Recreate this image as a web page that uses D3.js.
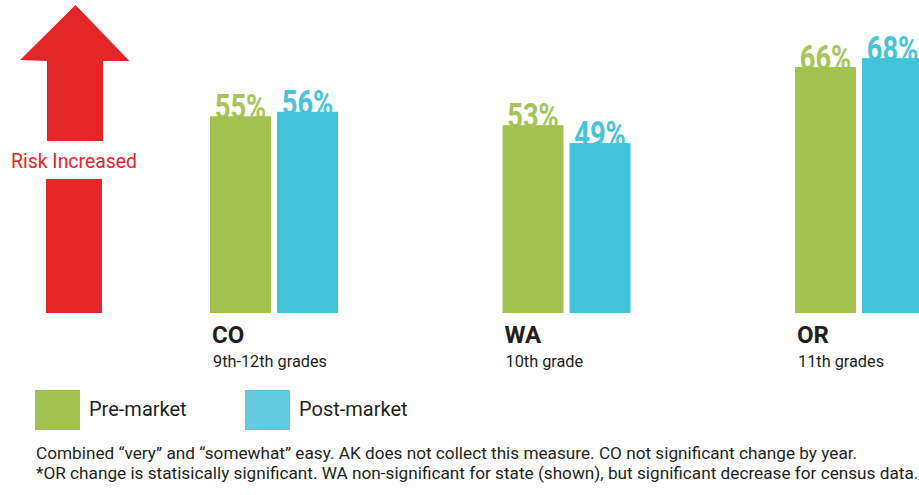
<!DOCTYPE html>
<html>
<head>
<meta charset="utf-8">
<script src="https://cdn.jsdelivr.net/npm/d3@7"></script>
<style>
  html, body { margin:0; padding:0; background:#fff; }
  svg { display:block; }
  text { font-family: Roboto, "Liberation Sans", sans-serif; }
</style>
</head>
<body>
<svg id="chart" width="919" height="495"></svg>
<script>
// ── data ──
const states   = ['CO', 'WA', 'OR'];
const grades   = ['9th-12th grades', '10th grade', '11th grades'];
const series   = ['Pre-market', 'Post-market'];
const preVals  = [55, 53, 66];
const postVals = [56, 49, 68];
const notes = [
  'Combined \u201cvery\u201d and \u201csomewhat\u201d easy. AK does not collect this measure. CO not significant change by year.',
  '*OR change is statisically significant. WA non-significant for state (shown), but significant decrease for census data.'
];

const COLORS = { 'Pre-market':'#a2c14f', 'Post-market':'#41c3da' };
const LABEL_COLORS = { 'Pre-market':'#a6c457', 'Post-market':'#45c4dc' };
const LEGEND_COLORS = { 'Pre-market':'#a2c14f', 'Post-market':'#62c9df' };
const DARK = '#231f20';
const RED = '#e52628';

const svg = d3.select('#chart');

// ── scales ── (infographic bars don't start at 0; fitted to the picture)
const base = 313;
const y = d3.scaleLinear().domain([11, 81]).range([base, 0]);
const xGroup = d3.scalePoint().domain(states).range([210, 795]);
const xSeries = d3.scaleBand().domain(series).range([0, 128]).paddingInner(0.09);

const rows = states.map((s, i) => ({
  state: s, grade: grades[i],
  vals: [{ key:'Pre-market', v:preVals[i] }, { key:'Post-market', v:postVals[i] }]
}));

// ── risk arrow (decoration) ──
const arrow = svg.append('g');
arrow.append('path')
  .attr('d', 'M75.5,5 L129.5,61 L103,61 L103,141 L47,141 L47,61 L20,60 Z')
  .attr('fill', RED);
arrow.append('rect').attr('x', 46).attr('y', 179).attr('width', 56).attr('height', 134).attr('fill', RED);
arrow.append('text')
  .attr('x', 74).attr('y', 168)
  .attr('text-anchor', 'middle')
  .attr('font-size', 20)
  .attr('fill', RED)
  .attr('transform', 'translate(74,0) scale(0.97,1) translate(-74,0)')
  .text('Risk Increased');

// ── groups ──
const groups = svg.selectAll('g.grp').data(rows).join('g')
  .attr('class', 'grp')
  .attr('transform', d => `translate(${xGroup(d.state)},0)`);

// value labels first, bars drawn over their feet
groups.selectAll('text.val').data(d => d.vals).join('text')
  .attr('class', 'val')
  .attr('x', d => xSeries(d.key) + xSeries.bandwidth() / 2)
  .attr('y', d => y(d.v) + 3)
  .attr('text-anchor', 'middle')
  .attr('font-size', 35)
  .attr('font-weight', 700)
  .attr('fill', d => LABEL_COLORS[d.key])
  .attr('transform', d => {
    const cx = xSeries(d.key) + xSeries.bandwidth() / 2;
    return `translate(${cx},0) scale(0.78,1) translate(${-cx},0)`;
  })
  .text(d => d.v + '%');

groups.selectAll('rect.bar').data(d => d.vals).join('rect')
  .attr('class', 'bar')
  .attr('x', d => xSeries(d.key))
  .attr('y', d => y(d.v))
  .attr('width', xSeries.bandwidth())
  .attr('height', d => base - y(d.v))
  .attr('fill', d => COLORS[d.key]);

groups.append('text')
  .attr('x', 2).attr('y', 343)
  .attr('font-size', 24).attr('font-weight', 700)
  .attr('fill', DARK)
  .text(d => d.state);

groups.append('text')
  .attr('x', 3).attr('y', 367)
  .attr('font-size', 16.3)
  .attr('fill', DARK)
  .text(d => d.grade);

// ── legend ──
const legend = svg.append('g').selectAll('g').data(series).join('g')
  .attr('transform', (d, i) => `translate(${35 + i * 210},390)`);
legend.append('rect')
  .attr('width', 45).attr('height', 40)
  .attr('fill', d => LEGEND_COLORS[d]);
legend.append('text')
  .attr('x', 54).attr('y', 26)
  .attr('font-size', 20)
  .attr('fill', DARK)
  .text(d => d);

// ── footnotes ──
svg.append('g').selectAll('text').data(notes).join('text')
  .attr('x', 36)
  .attr('y', (d, i) => 459 + i * 20)
  .attr('font-size', 17.2)
  .attr('fill', DARK)
  .text(d => d);
</script>
</body>
</html>
